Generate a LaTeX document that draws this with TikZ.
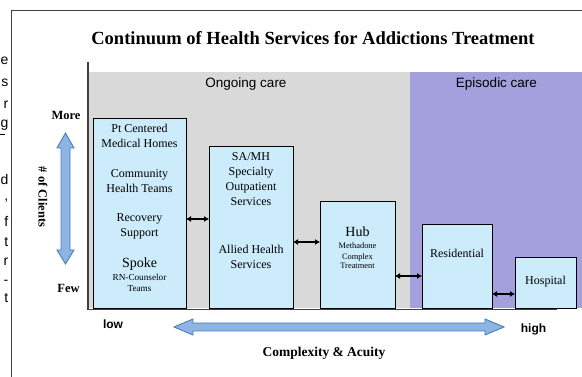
\documentclass[tikz,border=0pt]{standalone}
\usepackage{fontspec}
\setmainfont{Liberation Serif}
\setsansfont{Liberation Sans}
\usetikzlibrary{arrows.meta}
\definecolor{grayband}{HTML}{D9D9D9}
\definecolor{purpband}{HTML}{A3A0DD}
\definecolor{boxfill}{HTML}{CCEBFB}
\definecolor{bigfill}{HTML}{8DB4E2}
\definecolor{bigline}{HTML}{4A7EBB}
\definecolor{axisgray}{HTML}{404040}
\begin{document}
\begin{tikzpicture}[x=1pt,y=-1pt,
  svc/.style={draw=black, line width=0.8pt, fill=boxfill, anchor=north west, inner sep=0pt, outer sep=0pt},
  t12/.style={font=\fontsize{12}{12}\selectfont, anchor=base, inner sep=0pt},
  t14/.style={font=\fontsize{14}{14}\selectfont, anchor=base, inner sep=0pt},
  t9/.style={font=\fontsize{9.2}{9.2}\selectfont, anchor=base, inner sep=0pt},
  t8/.style={font=\fontsize{8.4}{8.4}\selectfont, anchor=base, inner sep=0pt},
  band/.style={font=\sffamily\fontsize{13.5}{13.5}\selectfont, anchor=base, inner sep=0pt},
  axl/.style={font=\bfseries\fontsize{12.5}{12.5}\selectfont, anchor=base, inner sep=0pt},
  lowhigh/.style={font=\sffamily\bfseries\fontsize{12}{12}\selectfont, anchor=base, inner sep=0pt},
  frag/.style={font=\sffamily\fontsize{14}{14}\selectfont, anchor=base east, inner sep=0pt},
  link/.style={line width=1.6pt, {Latex[length=5pt,width=6pt]}-{Latex[length=5pt,width=6pt]}},
  bigarrow/.style={fill=bigfill, draw=bigline, line width=0.9pt, line join=miter}
]
\useasboundingbox (0,0) rectangle (582,377);

% frame of the page
\draw[axisgray, line width=0.8pt] (11,377) -- (11,10) -- (582,10);

% clipped text fragments of neighbouring column
\node[frag] (f1) at (8.5,65) {e};
\node[frag] (f2) at (8.5,87) {s};
\node[frag] (f3) at (8.5,109) {r};
\node[frag] (f4) at (8.5,128) {g};
\draw[line width=0.9pt] (0,134) -- (5,134);
\node[frag] (f5) at (8.5,185) {d};
\node[frag] (f6) at (8.5,201) {,};
\node[frag] (f7) at (8.5,227) {f};
\node[frag] (f8) at (8.5,247) {t};
\node[frag] (f9) at (8.5,266) {r};
\node[frag] (f10) at (8.5,285) {-};
\node[frag] (f11) at (8.5,303) {t};

% title
\node[font=\bfseries\fontsize{18.5}{18.5}\selectfont, anchor=base, inner sep=0pt] (title) at (313,45) {Continuum of Health Services for Addictions Treatment};

% bands
\fill[grayband] (88,72) rectangle (410,308);
\fill[purpband] (410,72) rectangle (582,308);
\node[band] (ongoing) at (246,88) {Ongoing care};
\node[band] (episodic) at (496.5,88) {Episodic care};

% axes
\draw[axisgray, line width=1.2pt] (88,62) -- (88,309.5) -- (557,309.5);

% boxes
\node[svc, minimum width=93pt, minimum height=190pt] (b1) at (93,118) {};
\node[svc, minimum width=84pt, minimum height=162pt] (b2) at (209,146) {};
\node[svc, minimum width=75pt, minimum height=107pt] (b3) at (320,201) {};
\node[svc, minimum width=70pt, minimum height=84pt] (b4) at (422,224) {};
\node[svc, minimum width=61pt, minimum height=51pt] (b5) at (515,257) {};

% box 1 text
\node[t12] (p1) at (139.5,133) {Pt Centered};
\node[t12] (p2) at (139.5,148) {Medical Homes};
\node[t12] (p3) at (139.5,178) {Community};
\node[t12] (p4) at (139.5,193) {Health Teams};
\node[t12] (p5) at (139.5,222) {Recovery};
\node[t12] (p6) at (139.5,237) {Support};
\node[t14] (p7) at (139.5,268) {Spoke};
\node[t9] (p8) at (139.5,280.5) {RN-Counselor};
\node[t9] (p9) at (139.5,291.5) {Teams};

% box 3 text
\node[t14] (r1) at (357.5,237) {Hub};
\node[t8] (r2) at (357.5,248.5) {Methadone};
\node[t8] (r3) at (357.5,260) {Complex};
\node[t8] (r4) at (357.5,268.5) {Treatment};

% box 2 text
\node[t12] (q1) at (251,161) {SA/MH};
\node[t12] (q2) at (251,176) {Specialty};
\node[t12] (q3) at (251,191) {Outpatient};
\node[t12] (q4) at (251,206) {Services};
\node[t12] (q5) at (251,254) {Allied Health};
\node[t12] (q6) at (251,269) {Services};

% box 4 and 5 text
\node[t12] (s1) at (457,258) {Residential};
\node[t12] (s2) at (545.5,285) {Hospital};

% connectors between boxes
\coordinate (y1) at (0,219);
\coordinate (y2) at (0,242);
\coordinate (y3) at (0,276);
\coordinate (y4) at (0,294);
\draw[link] (b1.east |- y1) -- (b2.west |- y1);
\draw[link] (b2.east |- y2) -- (b3.west |- y2);
\draw[link] (b3.east |- y3) -- (b4.west |- y3);
\draw[link] (b4.east |- y4) -- (b5.west |- y4);

% vertical axis labels
\node[axl] (more) at (66,120) {More};
\node[axl] (few) at (68.5,293) {Few};
\node[font=\bfseries\fontsize{12.5}{12.5}\selectfont, rotate=-90, inner sep=0pt] (clients) at (43,197) {\# of Clients};
\draw[bigarrow] (65.5,133) -- (74,148) -- (70,148) -- (70,250) -- (74,250) -- (65.5,264)
  -- (57,250) -- (61,250) -- (61,148) -- (57,148) -- cycle;

% horizontal axis labels
\node[lowhigh] (low) at (113,329) {low};
\node[lowhigh] (high) at (533.5,333) {high};
\draw[bigarrow] (174,327) -- (193,319) -- (193,323) -- (485,323) -- (485,319) -- (504,327)
  -- (485,335) -- (485,331) -- (193,331) -- (193,335) -- cycle;
\node[font=\bfseries\fontsize{13.5}{13.5}\selectfont, anchor=base, inner sep=0pt] (ca) at (324,356) {Complexity \& Acuity};
\end{tikzpicture}
\end{document}
